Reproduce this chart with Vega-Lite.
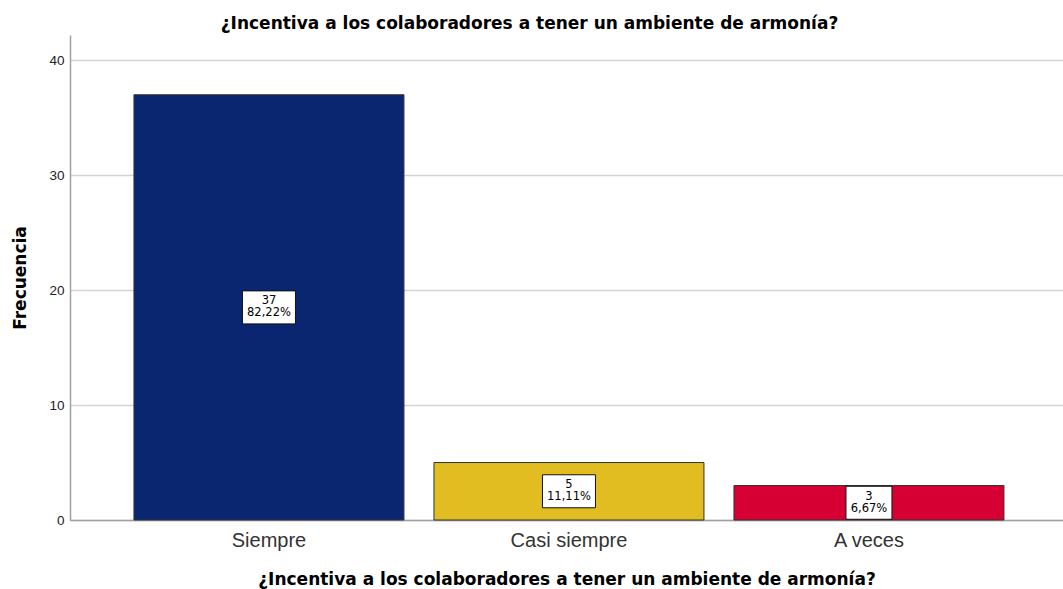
{
  "$schema": "https://vega.github.io/schema/vega-lite/v6.json",
  "width": 993,
  "height": 485,
  "autosize": {"type": "none"},
  "padding": {"left": 70, "top": 35, "right": 0, "bottom": 69},
  "background": "white",
  "title": {
    "text": "¿Incentiva a los colaboradores a tener un ambiente de armonía?",
    "font": "DejaVu Sans",
    "fontSize": 17,
    "fontWeight": "bold",
    "color": "#000000",
    "frame": "group",
    "anchor": "middle",
    "dx": -37,
    "dy": 17,
    "baseline": "alphabetic",
    "offset": 6
  },
  "data": {
    "values": [
      {"cat": "Siempre", "n": 37, "pct": "82,22%"},
      {"cat": "Casi siempre", "n": 5, "pct": "11,11%"},
      {"cat": "A veces", "n": 3, "pct": "6,67%"}
    ]
  },
  "encoding": {
    "x": {
      "field": "cat",
      "type": "nominal",
      "sort": null,
      "scale": {"paddingInner": 0.1, "paddingOuter": 0.205, "align": 0.52},
      "axis": {
        "title": "¿Incentiva a los colaboradores a tener un ambiente de armonía?",
        "titleFont": "DejaVu Sans",
        "titleFontSize": 17,
        "titleFontWeight": "bold",
        "titleColor": "#000000",
        "titleY": 64,
        "titleBaseline": "alphabetic",
        "labelFont": "Liberation Sans",
        "labelFontSize": 20,
        "labelColor": "#333333",
        "labelAngle": 0,
        "labelBaseline": "alphabetic",
        "labelPadding": 26,
        "ticks": false,
        "tickSize": 0,
        "domainColor": "#a0a0a0",
        "domainWidth": 1.5,
        "grid": false
      }
    }
  },
  "layer": [
    {
      "mark": {"type": "bar", "stroke": "#333333", "strokeWidth": 1},
      "encoding": {
        "y": {
          "field": "n",
          "type": "quantitative",
          "scale": {"domain": [0, 42.2], "nice": false, "zero": true},
          "axis": {
            "values": [0, 10, 20, 30, 40],
            "title": "Frecuencia",
            "titleFont": "DejaVu Sans",
            "titleFontSize": 17,
            "titleFontWeight": "bold",
            "titleColor": "#000000",
            "titleX": -45,
            "titleBaseline": "alphabetic",
            "labelFont": "Liberation Sans",
            "labelFontSize": 13.5,
            "labelColor": "#222222",
            "labelPadding": 6,
            "ticks": false,
            "tickSize": 0,
            "domainColor": "#a0a0a0",
            "domainWidth": 1.5,
            "grid": true,
            "gridColor": "#d4d4d4",
            "gridWidth": 1.5
          }
        },
        "color": {
          "field": "cat",
          "type": "nominal",
          "scale": {
            "domain": ["Siempre", "Casi siempre", "A veces"],
            "range": ["#0a2671", "#e1bd21", "#d60032"]
          },
          "legend": null
        }
      }
    },
    {
      "mark": {
        "type": "point",
        "filled": true,
        "fill": "white",
        "fillOpacity": 1,
        "stroke": "#111111",
        "strokeWidth": 1,
        "strokeOpacity": 1,
        "opacity": 1,
        "size": 1089
      },
      "encoding": {
        "y": {
          "field": "n",
          "type": "quantitative",
          "scale": {"domain": [0, 84.4], "nice": false, "zero": true},
          "axis": null
        },
        "shape": {
          "field": "cat",
          "type": "nominal",
          "scale": {
            "domain": ["Siempre", "Casi siempre", "A veces"],
            "range": ["M-1.606,-1H1.606V1H-1.606Z", "M-1.606,-1H1.606V1H-1.606Z", "M-1.394,-1H1.394V1H-1.394Z"]
          },
          "legend": null
        }
      }
    },
    {
      "mark": {"type": "text", "font": "DejaVu Sans", "fontSize": 11.5, "color": "#000000", "baseline": "alphabetic", "dy": -3},
      "encoding": {
        "y": {
          "field": "n",
          "type": "quantitative",
          "scale": {"domain": [0, 84.4], "nice": false, "zero": true},
          "axis": null
        },
        "text": {"field": "n", "type": "quantitative"}
      }
    },
    {
      "mark": {"type": "text", "font": "DejaVu Sans", "fontSize": 11.5, "color": "#000000", "baseline": "alphabetic", "dy": 9},
      "encoding": {
        "y": {
          "field": "n",
          "type": "quantitative",
          "scale": {"domain": [0, 84.4], "nice": false, "zero": true},
          "axis": null
        },
        "text": {"field": "pct", "type": "nominal"}
      }
    }
  ],
  "resolve": {"scale": {"y": "independent"}},
  "config": {"view": {"stroke": null}}
}
